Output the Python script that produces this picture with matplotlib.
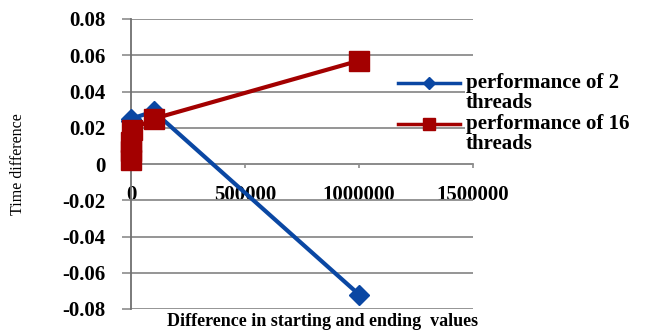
import matplotlib.pyplot as plt
from matplotlib.lines import Line2D

# timing differences against range size
x_2 = [10, 1000, 100000, 1000000]
y_2 = [0.024, 0.025, 0.029, -0.072]
x_16 = [10, 100, 1000, 5000, 100000, 1000000]
y_16 = [0.002, 0.007, 0.012, 0.019, 0.025, 0.057]
series_labels = ['performance of 2\nthreads', 'performance of 16\nthreads']
xticks = [0, 500000, 1000000, 1500000]
yticks = [-0.08, -0.06, -0.04, -0.02, 0, 0.02, 0.04, 0.06, 0.08]

blue = '#0a47a3'
red = '#a30000'
gridc = '#8c8c8c'

plt.rcParams['font.family'] = ['Liberation Serif', 'DejaVu Serif']

W, H = 647, 333
fig = plt.figure(figsize=(W / 100, H / 100), dpi=100)
ax = fig.add_axes([131 / W, 24 / H, 342 / W, 290 / H])

ax.plot(x_2, y_2, color=blue, lw=3, marker='D', ms=10, clip_on=False, zorder=3)
ax.plot(x_16, y_16, color=red, lw=3, marker='s', ms=14, clip_on=False, zorder=4)

ax.set_xlim(0, 1500000)
ax.set_ylim(-0.08, 0.08)
ax.set_xticks(xticks)
ax.set_xticklabels([str(v) for v in xticks])
ax.set_yticks(yticks)
ax.set_yticklabels(['0' if v == 0 else '%.2f' % v for v in yticks])

for s in ['top', 'right']:
    ax.spines[s].set_visible(False)
ax.spines['bottom'].set_position(('data', 0))
ax.spines['bottom'].set_color(gridc)
ax.spines['left'].set_color('#707070')
ax.spines['left'].set_linewidth(1.3)
ax.spines['bottom'].set_linewidth(1.3)

ax.tick_params(axis='y', length=6.5, width=1.2, color=gridc, pad=12, labelsize=15)
ax.tick_params(axis='x', direction='out', length=3, width=1.2, color=gridc, pad=12, labelsize=15)
for lbl in ax.get_xticklabels() + ax.get_yticklabels():
    lbl.set_fontweight('bold')
ax.yaxis.grid(True, color=gridc, lw=1.3)
ax.set_axisbelow(True)

fig.text(18 / W, 1 - 164 / H, 'Time difference', rotation=90,
         ha='center', va='center', fontsize=11.5)
fig.text(323 / W, 1 - 322 / H, 'Difference in starting and ending  values',
         ha='center', va='center', fontsize=13, fontweight='bold')

# legend, handle level with the first text line
for i, (c, m, ms, lab) in enumerate(zip([blue, red], ['D', 's'], [6, 9], series_labels)):
    y = 1 - (83 + i * 41) / H
    fig.add_artist(Line2D([398 / W, 429 / W, 460 / W], [y, y, y], color=c, lw=2.5,
                          marker=m, ms=ms, markevery=[1]))
    fig.text(466 / W, 1 - (108 + i * 41) / H, lab, va='baseline', ha='left',
             fontsize=15, fontweight='bold', linespacing=0.98,
             bbox=dict(facecolor='white', edgecolor='none', pad=1))

fig.savefig('out.png', dpi=100)
